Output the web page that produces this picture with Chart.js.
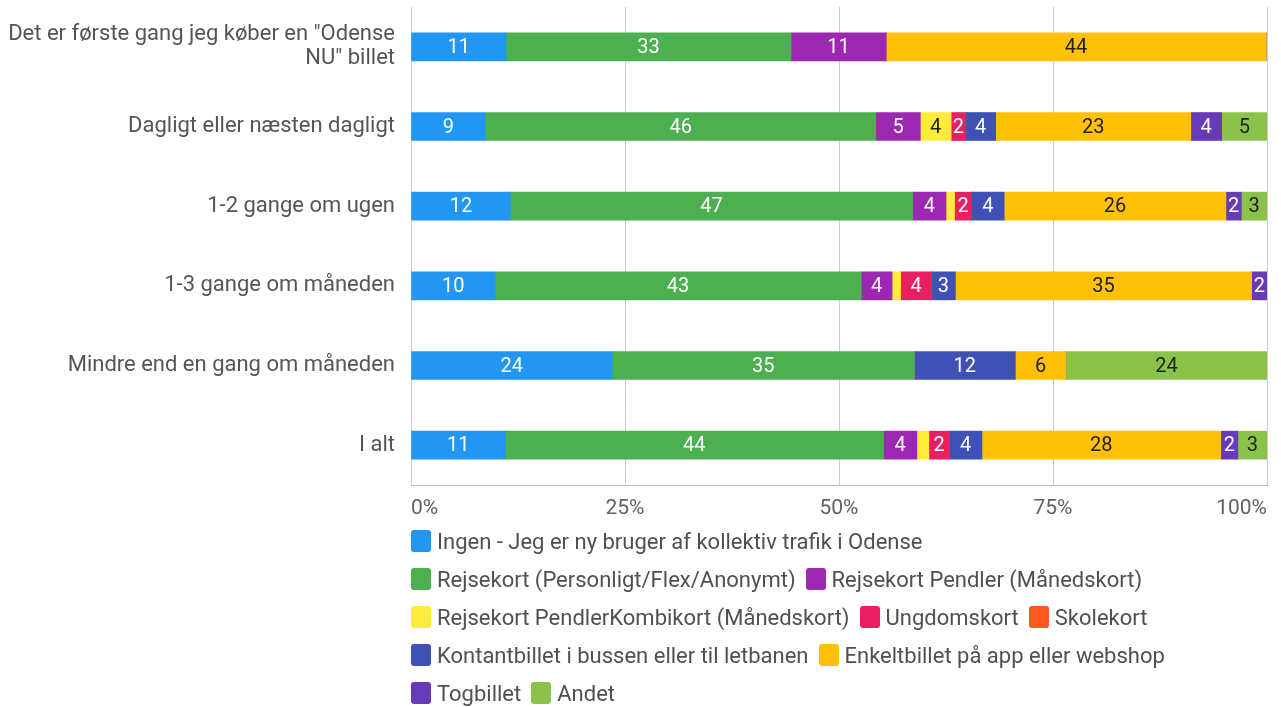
<!DOCTYPE html>
<html lang="da">
<head>
<meta charset="utf-8">
<title>Billettyper</title>
<script src="https://cdn.jsdelivr.net/npm/chart.js@4.4.1/dist/chart.umd.min.js"></script>
<style>
    html, body { margin: 0; padding: 0; background: #fff; }
    body { width: 1281px; height: 707px; position: relative; overflow: hidden; font-family: Roboto, Arial, sans-serif; }
    #wrap { position: absolute; left: 0; top: 0; width: 1281px; height: 530px; }
    #legend { position: absolute; left: 411px; top: 522px; width: 860px; display: flex; flex-wrap: wrap; }
    .item { display: flex; align-items: center; height: 38px; margin-right: 10px; font-size: 22px; color: #505050; white-space: nowrap; }
    .box { width: 20px; height: 22px; border-radius: 3px; margin-right: 6px; }
</style>
</head>
<body>
<div id="wrap"><canvas id="grafik"></canvas></div>
<div id="legend"></div>
<script>
const categories = [
    ['Det er første gang jeg køber en "Odense', 'NU" billet'],
    'Dagligt eller næsten dagligt',
    '1-2 gange om ugen',
    '1-3 gange om måneden',
    'Mindre end en gang om måneden',
    'I alt'
];
const xTicks = [0, 25, 50, 75, 100];

// andel i procent pr. kategori
const ingen       = [11.1,  8.7, 11.6,  9.8, 23.5, 11.0];
const rejsekort   = [33.3, 45.6, 47.0, 42.8, 35.3, 44.2];
const pendler     = [11.1,  5.2,  3.9,  3.6,  0,    3.9];
const kombikort   = [0,     3.6,  1.0,  1.0,  0,    1.4];
const ungdomskort = [0,     1.7,  2.0,  3.6,  0,    2.4];
const skolekort   = [0,     0,    0,    0,    0,    0];
const kontant     = [0,     3.5,  3.8,  2.8, 11.8,  3.8];
const enkelt      = [44.4, 22.8, 25.9, 34.6,  5.9, 27.9];
const togbillet   = [0,     3.6,  1.8,  1.8,  0,    2.0];
const andet       = [0,     5.3,  3.0,  0,   23.5,  3.4];

const series = [
    { label: 'Ingen - Jeg er ny bruger af kollektiv trafik i Odense', data: ingen, color: '#2196F3', text: '#fff' },
    { label: 'Rejsekort (Personligt/Flex/Anonymt)', data: rejsekort, color: '#4CAF50', text: '#fff' },
    { label: 'Rejsekort Pendler (Månedskort)', data: pendler, color: '#9C27B0', text: '#fff' },
    { label: 'Rejsekort PendlerKombikort (Månedskort)', data: kombikort, color: '#FFEB3B', text: '#222' },
    { label: 'Ungdomskort', data: ungdomskort, color: '#E91E63', text: '#fff' },
    { label: 'Skolekort', data: skolekort, color: '#FF5722', text: '#fff' },
    { label: 'Kontantbillet i bussen eller til letbanen', data: kontant, color: '#3F51B5', text: '#fff' },
    { label: 'Enkeltbillet på app eller webshop', data: enkelt, color: '#FFC107', text: '#222' },
    { label: 'Togbillet', data: togbillet, color: '#673AB7', text: '#fff' },
    { label: 'Andet', data: andet, color: '#8BC34A', text: '#222' }
];

// tal midt i hvert segment
const segmentLabels = {
    id: 'segmentLabels',
    afterDatasetsDraw(chart) {
        const ctx = chart.ctx;
        ctx.save();
        ctx.font = '20px Roboto, Arial, sans-serif';
        ctx.textAlign = 'center';
        ctx.textBaseline = 'middle';
        chart.data.datasets.forEach((ds, i) => {
            const meta = chart.getDatasetMeta(i);
            meta.data.forEach((bar, j) => {
                const v = ds.data[j];
                if (!v || v < 1.5) return;
                ctx.fillStyle = series[i].text;
                ctx.fillText(String(Math.round(v)), (bar.x + bar.base) / 2, bar.y + 1);
            });
        });
        ctx.restore();
    }
};

function renderLegend() {
    const el = document.getElementById('legend');
    series.forEach(s => {
        const item = document.createElement('div');
        item.className = 'item';
        item.innerHTML = `<span class="box" style="background:${s.color}"></span>${s.label}`;
        el.appendChild(item);
    });
}

function renderChart() {
    const ctx = document.getElementById('grafik').getContext('2d');
    new Chart(ctx, {
        type: 'bar',
        data: {
            labels: categories,
            datasets: series.map(s => ({
                label: s.label,
                data: s.data,
                backgroundColor: s.color,
                borderWidth: 0,
                barThickness: 28
            }))
        },
        options: {
            indexAxis: 'y',
            responsive: true,
            maintainAspectRatio: false,
            animation: false,
            layout: { padding: { top: 7, right: 14, left: 0, bottom: 0 } },
            plugins: {
                legend: { display: false },
                tooltip: { enabled: false }
            },
            scales: {
                x: {
                    stacked: true,
                    min: 0,
                    max: 100,
                    afterBuildTicks: scale => { scale.ticks = xTicks.map(v => ({ value: v })); },
                    afterFit: scale => { scale.height = 45; },
                    ticks: {
                        align: 'inner',
                        padding: 11,
                        color: '#616161',
                        font: { size: 21, family: 'Roboto' },
                        callback: v => v + '%'
                    },
                    grid: { color: '#cccccc', drawTicks: false },
                    border: { color: '#bdbdbd' }
                },
                y: {
                    stacked: true,
                    afterFit: scale => {
                        scale.width = 411;
                        scale.paddingTop = 0;
                        scale.paddingBottom = 0;
                    },
                    ticks: {
                        padding: 16,
                        color: '#555555',
                        font: { size: 22, family: 'Roboto', lineHeight: 1.1 }
                    },
                    grid: { display: false, drawTicks: false },
                    border: { display: false }
                }
            }
        },
        plugins: [segmentLabels]
    });
}

document.addEventListener('DOMContentLoaded', () => {
    renderChart();
    renderLegend();
});
</script>
</body>
</html>
